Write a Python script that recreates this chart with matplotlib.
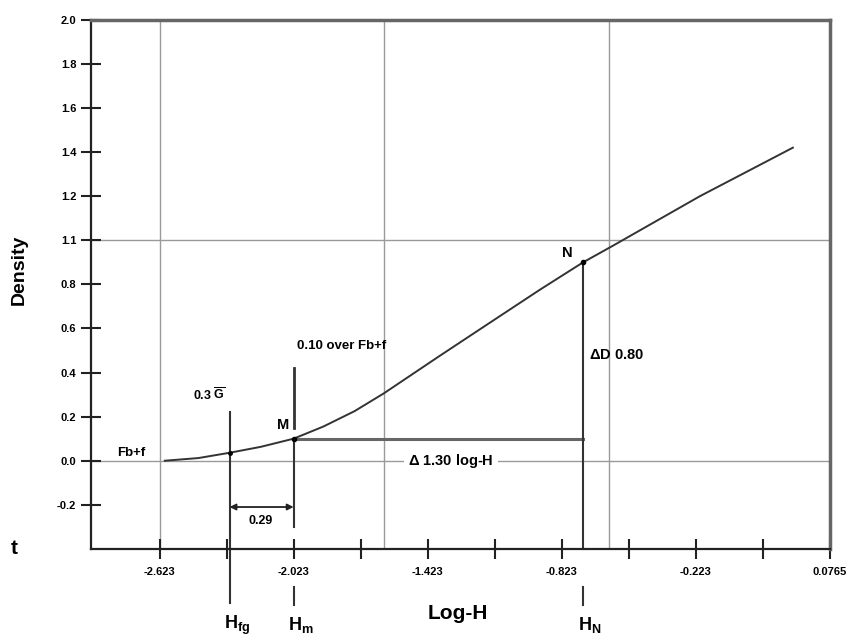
import numpy as np
import matplotlib
matplotlib.use("Agg")
import matplotlib.pyplot as plt

matplotlib.rc('font', family='Liberation Sans', weight='bold')
matplotlib.rc('mathtext', fontset='custom', rm='Liberation Sans', bf='Liberation Sans:bold')

# characteristic curve
log_h = [-2.60, -2.45, -2.31, -2.17, -2.023, -1.89, -1.75, -1.62, -1.367,
         -1.143, -0.92, -0.727, -0.594, -0.204, 0.212]
density = [0.00, 0.012, 0.036, 0.063, 0.10, 0.155, 0.225, 0.305, 0.477,
           0.627, 0.776, 0.90, 0.975, 1.20, 1.42]

# axis ticks
x_ticks = [-2.623 + 0.3 * k for k in range(11)]
x_labels = ['-2.623', '', '-2.023', '', '-1.423', '', '-0.823', '', '-0.223', '', '0.0765']
y_ticks = [-0.2, 0.0, 0.2, 0.4, 0.6, 0.8, 1.0, 1.2, 1.4, 1.6, 1.8, 2.0]
y_labels = ['-0.2', '0.0', '0.2', '0.4', '0.6', '0.8', '1.1', '1.2', '1.4', '1.6', '1.8', '2.0']
grid_x = [-2.623, -1.62, -0.613]
grid_y = [0.0, 1.0]

# key points
h_fg, g_dens = -2.31, 0.036
h_m, m_dens = -2.023, 0.10
h_n, n_dens = -0.727, 0.90

fig = plt.figure(figsize=(8.67, 6.39), dpi=100)
ax = fig.add_axes([0.105, 0.141, 0.852, 0.828])
ax.set_xlim(-2.93, 0.377)
ax.set_ylim(-0.4, 2.0)

for gx in grid_x:
    ax.axvline(gx, color='#9a9a9a', lw=1.0, zorder=1)
for gy in grid_y:
    ax.axhline(gy, color='#9a9a9a', lw=1.0, zorder=1)

ax.plot(log_h, density, color='#333333', lw=1.4, zorder=3)

# triangle M-N
ax.plot([h_m, h_n], [m_dens, m_dens], color='#666666', lw=2.2, zorder=2)
ax.plot([h_n, h_n], [-0.4, n_dens], color='#333333', lw=1.5, zorder=2)
ax.plot([h_m, h_n], [m_dens, n_dens], 'o', color='black', ms=3, zorder=4)
ax.plot([h_fg], [g_dens], 'o', color='black', ms=2.5, zorder=4)

# H_fg and H_m markers
ax.plot([h_fg, h_fg], [0.22, -0.644], color='#333333', lw=1.5, clip_on=False, zorder=2)
ax.plot([h_m, h_m], [0.42, 0.15], color='#333333', lw=2.0, zorder=2)
ax.plot([h_m, h_m], [0.10, -0.30], color='#333333', lw=1.5, zorder=2)
ax.plot([h_m, h_m], [-0.571, -0.653], color='#333333', lw=1.5, clip_on=False)
ax.plot([h_n, h_n], [-0.571, -0.653], color='#333333', lw=1.5, clip_on=False)
ax.annotate('', xy=(h_fg, -0.21), xytext=(h_m, -0.21),
            arrowprops=dict(arrowstyle='<|-|>', color='#222222', lw=1.3,
                            mutation_scale=9, shrinkA=0, shrinkB=0))

ax.text(-2.75, 0.01, 'Fb+f', fontsize=9.5, ha='center', va='bottom')
ax.text(-2.40, 0.30, r'0.3 $\mathbf{\overline{G}}$', fontsize=9, ha='center', va='center')
ax.text(-1.81, 0.52, '0.10 over Fb+f', fontsize=9.5, ha='center', va='center')
ax.text(-2.07, 0.16, 'M', fontsize=10.5, ha='center', va='center')
ax.text(-0.80, 0.94, 'N', fontsize=10.5, ha='center', va='center')
ax.text(-0.70, 0.48, r'$\Delta$D 0.80', fontsize=10.5, ha='left', va='center')
ax.text(-1.32, 0.0, r'$\Delta$ 1.30 log-H', fontsize=10.5, ha='center', va='center',
        bbox=dict(boxstyle='square,pad=0.3', fc='white', ec='none'), zorder=2.5)
ax.text(-2.17, -0.275, '0.29', fontsize=9, ha='center', va='center')

for hx, sub in [(h_fg, 'fg'), (h_m, 'm'), (h_n, 'N')]:
    ax.text(hx - 0.025, -0.745, r'$\mathbf{H_{%s}}$' % sub, fontsize=13, ha='left',
            va='center', clip_on=False)

ax.set_xticks(x_ticks)
ax.set_xticklabels(x_labels, fontsize=8)
ax.set_yticks(y_ticks)
ax.set_yticklabels(y_labels, fontsize=8)
ax.tick_params(axis='both', direction='inout', length=14, width=1.5, color='#222222')
ax.tick_params(axis='x', pad=6)

ax.set_xlabel('Log-H', fontsize=15, fontweight='bold')
ax.xaxis.set_label_coords(0.497, -0.105)
ax.set_ylabel('Density', fontsize=14, fontweight='bold')
ax.yaxis.set_label_coords(-0.085, 0.527)

for side in ['left', 'bottom']:
    ax.spines[side].set_linewidth(1.6)
    ax.spines[side].set_color('#222222')
for side in ['top', 'right']:
    ax.spines[side].set_linewidth(2.5)
    ax.spines[side].set_color('#666666')

fig.text(0.012, 0.142, 't', fontsize=15, ha='left', va='center')

plt.savefig('out.png', dpi=100)
